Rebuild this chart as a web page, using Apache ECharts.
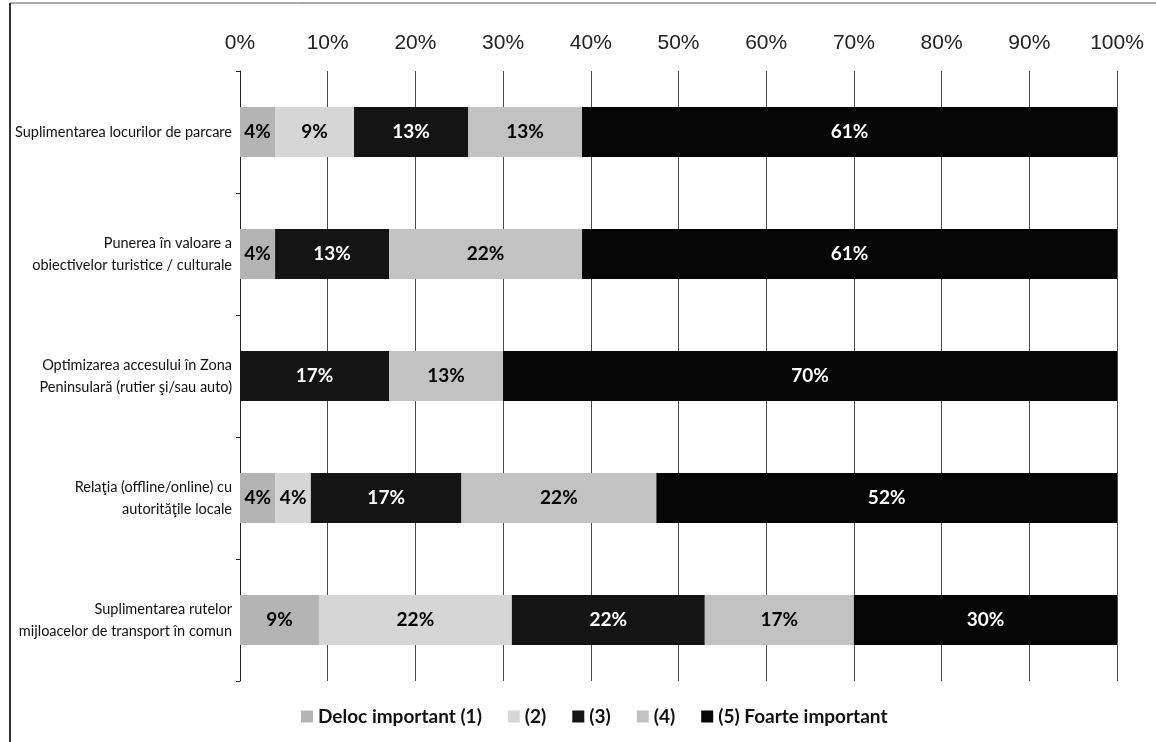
<!DOCTYPE html>
<html>
<head>
<meta charset="utf-8">
<script src="https://cdn.jsdelivr.net/npm/echarts@6/dist/echarts.min.js"></script>
<style>
  html, body { margin: 0; padding: 0; background: #fff; }
  #main { width: 1156px; height: 742px; }
</style>
</head>
<body>
<div id="main"></div>
<script>
var categories = [
  "Suplimentarea locurilor de parcare",
  "Punerea în valoare a\nobiectivelor turistice / culturale",
  "Optimizarea accesului în Zona\nPeninsulară (rutier şi/sau auto)",
  "Relaţia (offline/online) cu\nautorităţile locale",
  "Suplimentarea rutelor\nmijloacelor de transport în comun"
];
var seriesNames = ["Deloc important (1)", "(2)", "(3)", "(4)", "(5) Foarte important"];
var imp1 = [4, 4, 0, 4, 9];
var imp2 = [9, 0, 0, 4, 22];
var imp3 = [13, 13, 17, 17, 22];
var imp4 = [13, 22, 13, 22, 17];
var imp5 = [61, 61, 70, 52, 30];
var tickLabels = ["0%", "10%", "20%", "30%", "40%", "50%", "60%", "70%", "80%", "90%", "100%"];

var rows = [imp1, imp2, imp3, imp4, imp5];
var colors = ["#b4b4b4", "#d6d6d6", "#141414", "#c2c2c2", "#050505"];
var labelColors = ["#000", "#000", "#fff", "#000", "#fff"];

// bars are drawn as share of the row total (each row fills 100%)
var totals = categories.map(function (c, i) {
  return rows.reduce(function (s, r) { return s + r[i]; }, 0);
});

var dom = document.getElementById("main");
var chart = echarts.init(dom);

var series = rows.map(function (r, k) {
  return {
    name: seriesNames[k],
    type: "bar",
    stack: "total",
    barWidth: 50,
    itemStyle: { color: colors[k] },
    label: {
      show: true,
      position: "inside",
      color: labelColors[k],
      fontFamily: "Lato",
      fontWeight: "bold",
      fontSize: 19,
      formatter: function (p) {
        var v = r[p.dataIndex];
        return v > 0 ? v + "%" : "";
      }
    },
    data: r.map(function (v, i) { return v / totals[i] * 100; })
  };
});

chart.setOption({
  animation: false,
  grid: { left: 240, right: 39, top: 71, bottom: 61 },
  xAxis: {
    type: "value",
    position: "top",
    min: 0,
    max: 100,
    interval: 10,
    axisLine: { show: false },
    axisTick: { show: false },
    splitLine: { show: true, lineStyle: { color: "#4a4a4a", width: 1 } },
    axisLabel: {
      margin: 17,
      fontFamily: "Liberation Sans",
      fontSize: 21,
      color: "#222",
      formatter: function (v) { return tickLabels[Math.round(v / 10)]; }
    }
  },
  yAxis: {
    type: "category",
    inverse: true,
    data: categories,
    axisLine: { show: true, lineStyle: { color: "#222", width: 1 } },
    axisTick: { show: true, length: 4, lineStyle: { color: "#222" } },
    axisLabel: {
      margin: 8,
      fontFamily: "Lato",
      fontSize: 14.5,
      color: "#111",
      lineHeight: 22,
      align: "right"
    }
  },
  legend: {
    bottom: 11,
    left: 296,
    itemWidth: 12,
    itemHeight: 12,
    itemGap: 26,
    icon: "rect",
    textStyle: { fontFamily: "Lato", fontSize: 19, fontWeight: "bold", color: "#111" },
    data: seriesNames
  },
  graphic: [
    { type: "line", shape: { x1: 10, y1: 3, x2: 1156, y2: 3 }, style: { stroke: "#555", lineWidth: 1 } },
    { type: "line", shape: { x1: 10, y1: 3, x2: 10, y2: 742 }, style: { stroke: "#333", lineWidth: 2 } }
  ],
  series: series
});
</script>
</body>
</html>
